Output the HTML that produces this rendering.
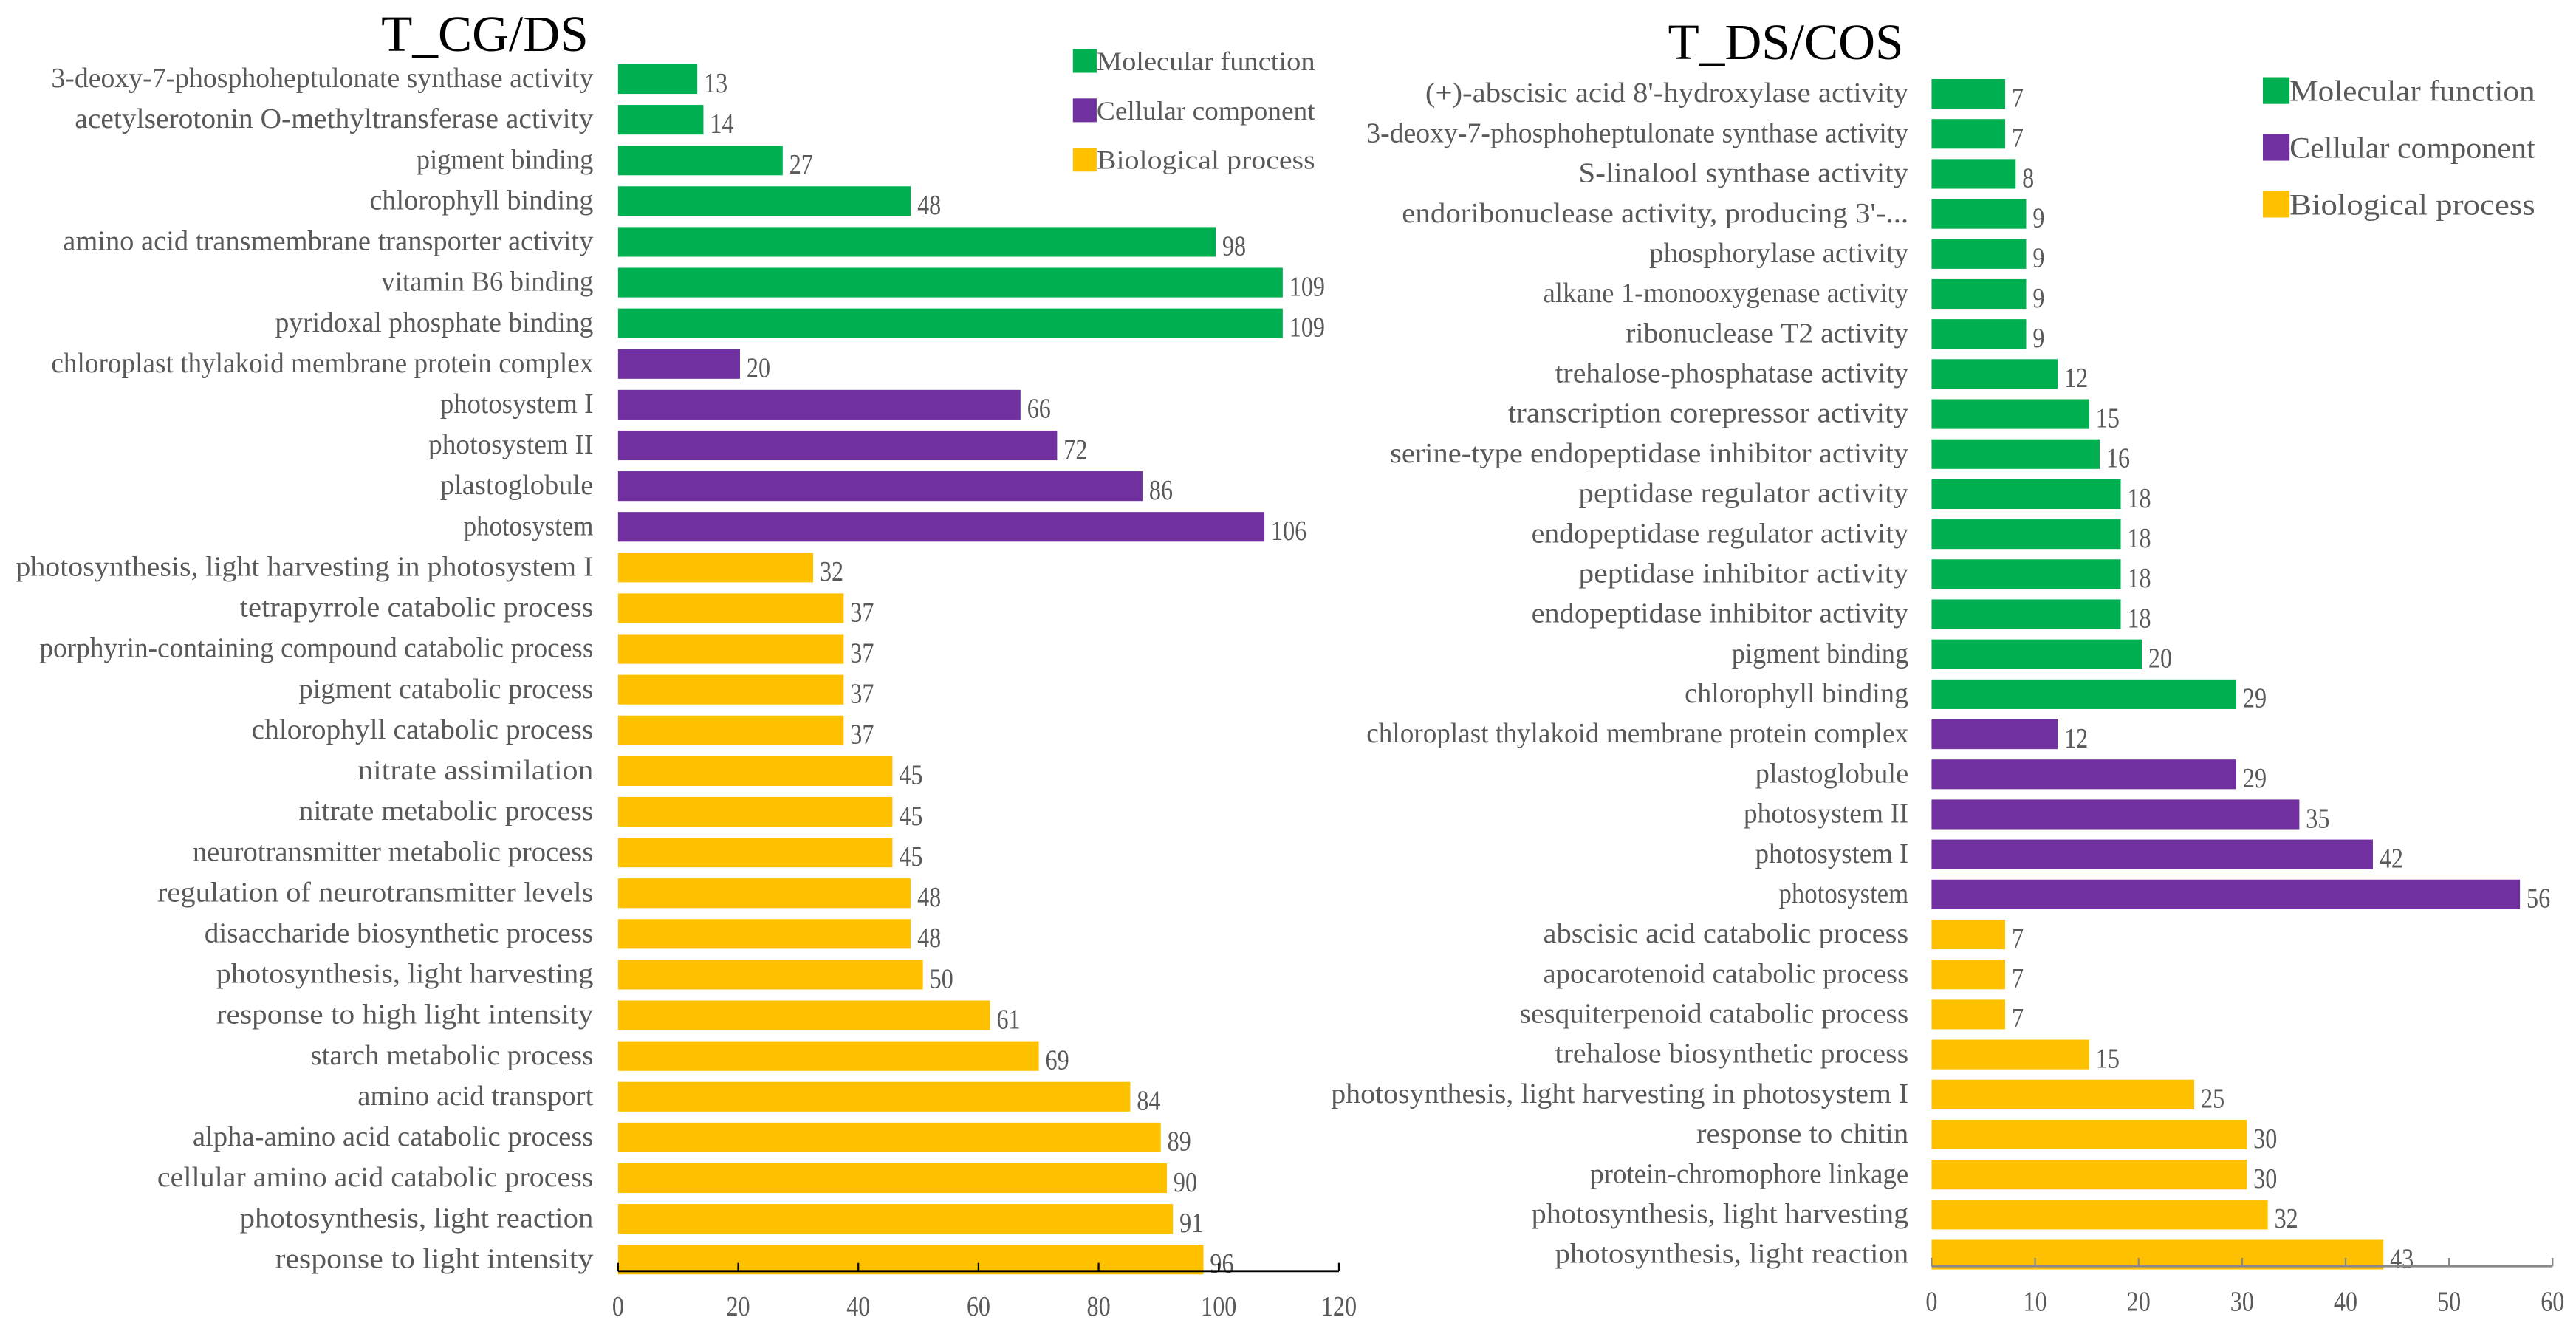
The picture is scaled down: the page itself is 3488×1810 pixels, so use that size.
<!DOCTYPE html>
<html><head><meta charset="utf-8"><style>
html,body{margin:0;padding:0;background:#fff;}
svg{display:block;}
text{font-family:"Liberation Serif",serif;}
</style></head><body>
<svg id="chart" width="3488" height="1810" viewBox="0 0 1563 812" preserveAspectRatio="none" xmlns="http://www.w3.org/2000/svg"></svg>
<script>
// Left panel data (top to bottom)
const leftCategories = ["3-deoxy-7-phosphoheptulonate synthase activity","acetylserotonin O-methyltransferase activity","pigment binding","chlorophyll binding","amino acid transmembrane transporter activity","vitamin B6 binding","pyridoxal phosphate binding","chloroplast thylakoid membrane protein complex","photosystem I","photosystem II","plastoglobule","photosystem","photosynthesis, light harvesting in photosystem I","tetrapyrrole catabolic process","porphyrin-containing compound catabolic process","pigment catabolic process","chlorophyll catabolic process","nitrate assimilation","nitrate metabolic process","neurotransmitter metabolic process","regulation of neurotransmitter levels","disaccharide biosynthetic process","photosynthesis, light harvesting","response to high light intensity","starch metabolic process","amino acid transport","alpha-amino acid catabolic process","cellular amino acid catabolic process","photosynthesis, light reaction","response to light intensity"];
const leftValues = [13,14,27,48,98,109,109,20,66,72,86,106,32,37,37,37,37,45,45,45,48,48,50,61,69,84,89,90,91,96];
const leftGroups = ["MF","MF","MF","MF","MF","MF","MF","CC","CC","CC","CC","CC","BP","BP","BP","BP","BP","BP","BP","BP","BP","BP","BP","BP","BP","BP","BP","BP","BP","BP"];
const leftTicks = [0,20,40,60,80,100,120];
// Right panel data
const rightCategories = ["(+)-abscisic acid 8'-hydroxylase activity","3-deoxy-7-phosphoheptulonate synthase activity","S-linalool synthase activity","endoribonuclease activity, producing 3'-...","phosphorylase activity","alkane 1-monooxygenase activity","ribonuclease T2 activity","trehalose-phosphatase activity","transcription corepressor activity","serine-type endopeptidase inhibitor activity","peptidase regulator activity","endopeptidase regulator activity","peptidase inhibitor activity","endopeptidase inhibitor activity","pigment binding","chlorophyll binding","chloroplast thylakoid membrane protein complex","plastoglobule","photosystem II","photosystem I","photosystem","abscisic acid catabolic process","apocarotenoid catabolic process","sesquiterpenoid catabolic process","trehalose biosynthetic process","photosynthesis, light harvesting in photosystem I","response to chitin","protein-chromophore linkage","photosynthesis, light harvesting","photosynthesis, light reaction"];
const rightValues = [7,7,8,9,9,9,9,12,15,16,18,18,18,18,20,29,12,29,35,42,56,7,7,7,15,25,30,30,32,43];
const rightGroups = ["MF","MF","MF","MF","MF","MF","MF","MF","MF","MF","MF","MF","MF","MF","MF","MF","CC","CC","CC","CC","CC","BP","BP","BP","BP","BP","BP","BP","BP","BP"];
const rightTicks = [0,10,20,30,40,50,60];
const legendLabels = ["Molecular function","Cellular component","Biological process"];

const colors = {MF:"#00b050",CC:"#7030a0",BP:"#ffc000"};
const groupKeys = ["MF","CC","BP"];
const svg = document.getElementById('chart');
const NS = "http://www.w3.org/2000/svg";
function mk(tag, attrs, txt){
  const e = document.createElementNS(NS, tag);
  for (const k in attrs) e.setAttribute(k, attrs[k]);
  if (txt !== undefined) e.textContent = txt;
  svg.appendChild(e);
  return e;
}

function panel(cfg){
  const {cats, vals, groups, ticks, x0, unit, tickUnit, yFirst, yLast, axisY, labelX, barH, prefix, title, titleX, titleY, legX, legY, legStep, legFont, axisColor} = cfg;
  const n = cats.length;
  const pitch = (yLast - yFirst) / (n - 1);
  const xs = v => x0 + v * unit;
  const ys = i => yFirst + i * pitch;
  const t = mk('text', {x:titleX, y:titleY, 'font-size':31, fill:'#000', 'text-anchor':'end'}, title);
  
  
  for (let i = 0; i < n; i++){
    const cy = ys(i);
    const r = mk('rect', {x:x0, y:cy - barH/2, width:xs(vals[i]) - x0, height:barH, fill:colors[groups[i]]});
    
    
    const lab = cats[i];
    const l = mk('text', {x:labelX, y:cy + 5, 'font-size':17, fill:'#595959', 'text-anchor':'end', textLength:(lab.length*7.15).toFixed(1), lengthAdjust:'spacingAndGlyphs'}, lab);
    
    
    const s = String(vals[i]);
    const v = mk('text', {x:xs(vals[i]) + 4, y:cy + 8, 'font-size':17, fill:'#595959', textLength:(s.length*7.2).toFixed(1), lengthAdjust:'spacingAndGlyphs'}, s);
    
    
  }
  const ax = mk('line', {x1:x0, y1:axisY, x2:x0 + ticks[ticks.length-1]*tickUnit, y2:axisY, stroke:axisColor, 'stroke-width':1.3});
  
  
  for (const tk of ticks){
    const tx = x0 + tk * tickUnit;
    const tl = mk('line', {x1:tx, y1:axisY, x2:tx, y2:axisY - 5, stroke:axisColor, 'stroke-width':1});
    
    
    const s = String(tk);
    const tt = mk('text', {x:tx, y:axisY + 27, 'font-size':17, fill:'#595959', 'text-anchor':'middle', textLength:(s.length*7.2).toFixed(1), lengthAdjust:'spacingAndGlyphs'}, s);
    
    
  }
  for (let g = 0; g < 3; g++){
    const ly = legY + g * legStep;
    const sq = mk('rect', {x:legX, y:ly - legFont*0.45, width:legFont*0.9, height:legFont*0.9, fill:colors[groupKeys[g]]});
    
    
    const lt = mk('text', {x:legX + legFont*0.9, y:ly + legFont*0.35, 'font-size':legFont, fill:'#595959', textLength:(legendLabels[g].length*legFont*0.46).toFixed(1), lengthAdjust:'spacingAndGlyphs'}, legendLabels[g]);
    
    
  }
}

panel({cats:leftCategories, vals:leftValues, groups:leftGroups, ticks:leftTicks, x0:375, unit:3.70, tickUnit:3.645,
  yFirst:48, yLast:765, axisY:772, labelX:360, barH:18, prefix:'left', title:'T_CG/DS', titleX:357, titleY:31,
  legX:651, legY:37, legStep:30, legFont:16, axisColor:'#000'});
panel({cats:rightCategories, vals:rightValues, groups:rightGroups, ticks:rightTicks, x0:1172, unit:6.375, tickUnit:6.28,
  yFirst:57, yLast:762, axisY:769, labelX:1158, barH:18, prefix:'right', title:'T_DS/COS', titleX:1155, titleY:36,
  legX:1373, legY:55, legStep:34.5, legFont:18, axisColor:'#888'});
</script>
</body></html>
